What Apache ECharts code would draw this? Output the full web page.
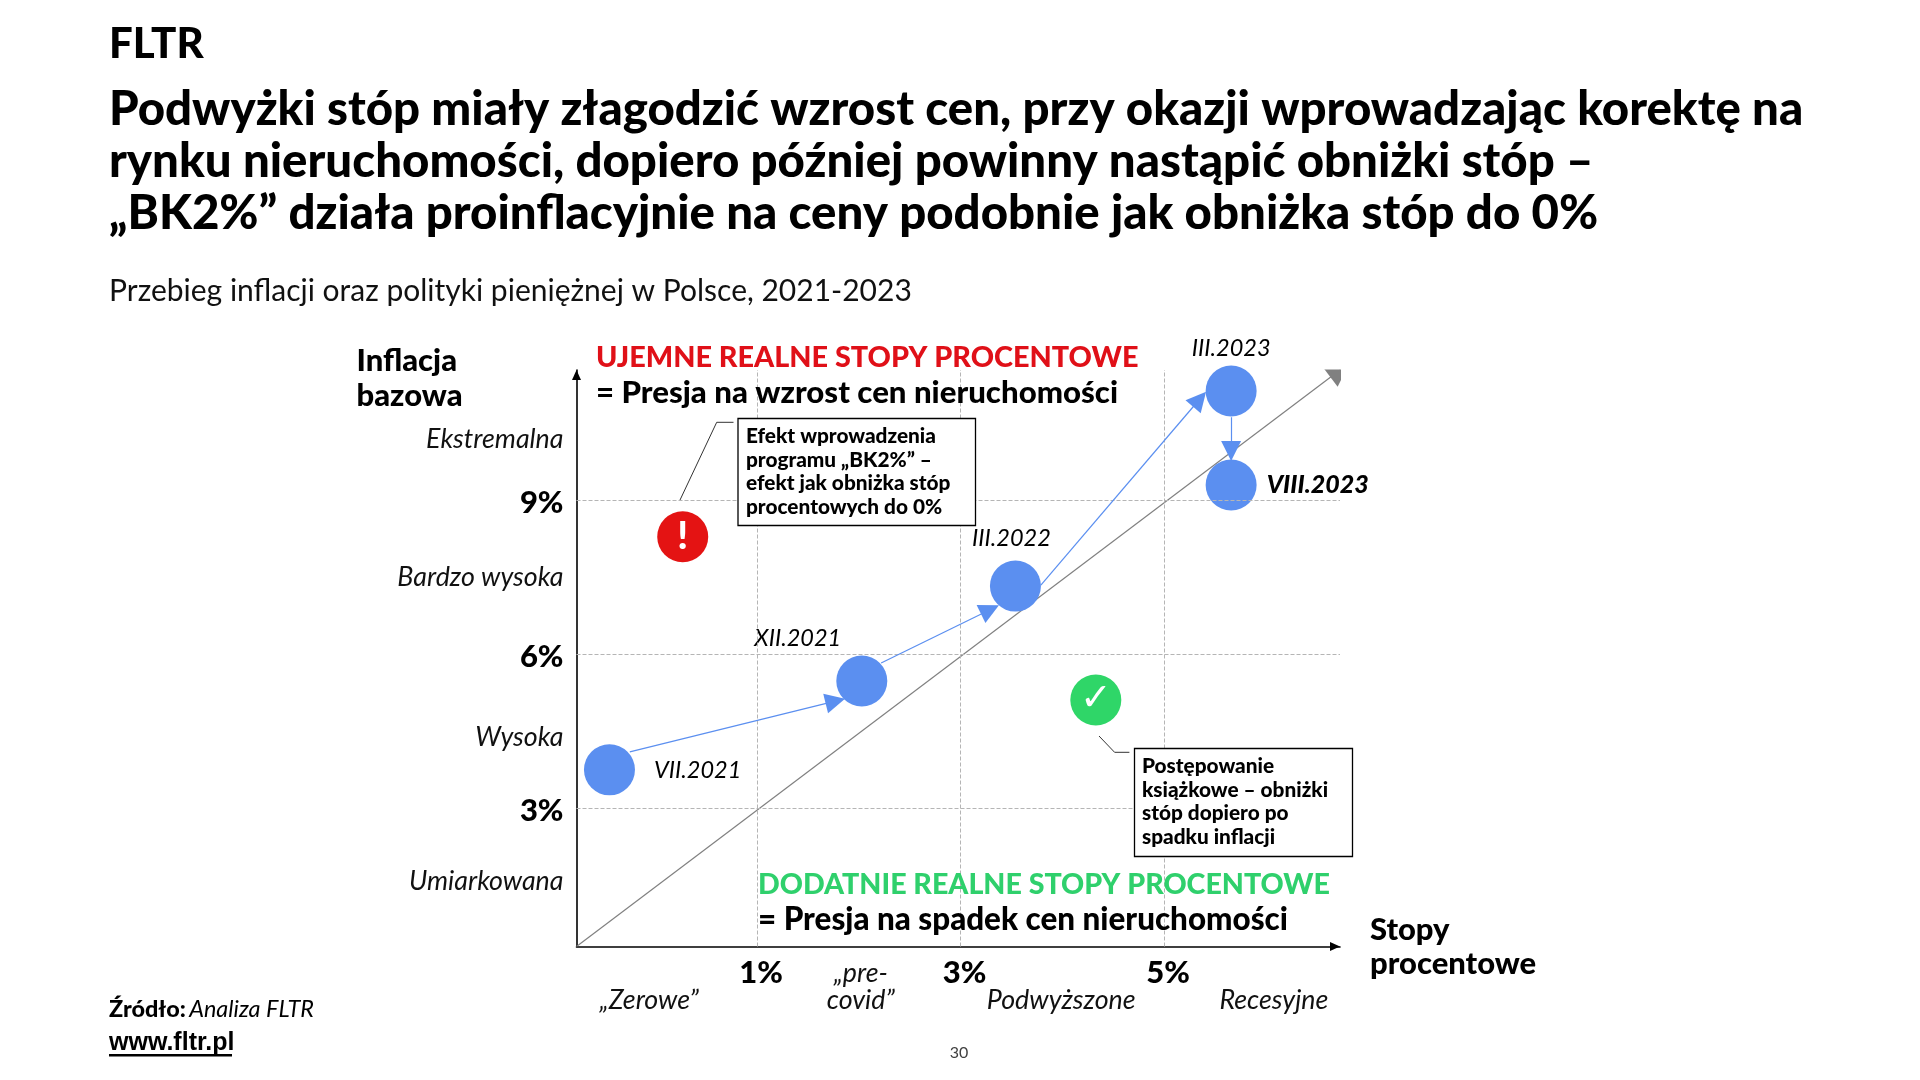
<!DOCTYPE html>
<html lang="pl"><head><meta charset="utf-8">
<style>html,body{margin:0;padding:0;background:#fff}#c{width:1920px;height:1080px}</style>
<script src="https://cdn.jsdelivr.net/npm/echarts@6/dist/echarts.min.js"></script>
</head><body><div id="c"></div>
<script>
const pointNames = ['VII.2021','XII.2021','III.2022','III.2023','VIII.2023'];
const policyRate = [-0.45, 2.03, 3.54, 5.66, 5.66];
const coreInflation = [3.75, 5.48, 7.33, 11.13, 9.30];
const arrowFromX = [-0.25, 2.22, 3.79, 5.66];
const arrowFromY = [4.10, 5.83, 7.35, 10.62];
const arrowToX = [1.77, 3.29, 5.35, 5.66];
const arrowToY = [5.09, 6.87, 10.97, 9.96];
const xMin = -0.774, xMax = 6.73, yMin = 0.308, yMax = 11.54;
const xGridValues = [1, 3, 5];
const yGridValues = [3, 6, 9];
const xBandNames = ['„Zerowe”', '„pre-\ncovid”', 'Podwyższone', 'Recesyjne'];
const xBandCentres = [-0.06, 2.02, 3.99, 6.08];
const yBandNames = ['Umiarkowana', 'Wysoka', 'Bardzo wysoka', 'Ekstremalna'];
const yBandCentres = [1.57, 4.39, 7.5, 10.18];
const warnPoint = [0.27, 8.29];
const okPoint = [4.33, 5.11];

const F = 'Lato,"Noto Sans",sans-serif';
const BLUE = '#5b8ff0', GREY = '#808080', INK = '#000';
const chart = echarts.init(document.getElementById('c'), null, {renderer:'canvas', width:1920, height:1080});

const labelLayout = [
  {position:'right', offset:[15,1]},
  {position:'top', offset:[-64,-2]},
  {position:'top', offset:[-4,-7]},
  {position:'top', offset:[0,-2]},
  {position:'right', offset:[6,0]}
];
const rangeBoxText = (t, x, y, w, h, tx, ty) => [
  {type:'rect', shape:{x, y, width:w, height:h}, style:{fill:'#fff', stroke:'#000', lineWidth:1.3}, z:20},
  {type:'text', x:tx, y:ty, z:21, style:{text:t, font:`900 20.8px ${F}`, fill:INK, lineHeight:23.4, textVerticalAlign:'top'}}
];
const txt = (t, x, y, font, fill, align) => ({type:'text', x, y, z:15, style:{text:t, font, fill:fill||INK, textAlign:align||'left', textVerticalAlign:'middle'}});

chart.setOption({
  animation:false,
  backgroundColor:'#fff',
  title:[
    {text:'FLTR', left:104, top:18, textStyle:{fontFamily:F, fontWeight:900, fontSize:42, color:INK}},
    {text:'Podwyżki stóp miały złagodzić wzrost cen, przy okazji wprowadzając korektę na\nrynku nieruchomości, dopiero później powinny nastąpić obniżki stóp –\n„BK2%” działa proinflacyjnie na ceny podobnie jak obniżka stóp do 0%',
     left:104, top:79, textStyle:{fontFamily:F, fontWeight:900, fontSize:47.4, lineHeight:52, color:INK}},
    {text:'Przebieg inflacji oraz polityki pieniężnej w Polsce, 2021-2023', left:104, top:271,
     textStyle:{fontFamily:F, fontWeight:400, fontSize:30, color:'#111'}}
  ],
  grid:{left:576.5, top:370, width:763.5, height:576.5, containLabel:false},
  xAxis:{
    type:'value', min:xMin, max:xMax, splitLine:{show:false}, axisTick:{show:false},
    name:'Stopy\nprocentowe', nameLocation:'end', nameGap:30,
    nameTextStyle:{fontFamily:F, fontWeight:900, fontSize:31, lineHeight:34, color:INK, align:'left', verticalAlign:'middle', padding:[0,0,2,0]},
    axisLine:{onZero:false, lineStyle:{color:INK, width:1.6}, symbol:['none','triangle'], symbolSize:[9,10], symbolOffset:[0,-5]},
    axisLabel:{
      customValues:[...xGridValues, ...xBandCentres].sort((a,b)=>a-b),
      margin:13, verticalAlign:'top',
      formatter:v=>{
        const g=xGridValues.indexOf(v);
        if(g>=0) return `{b|${v}%}\n{i| }`;
        const n=xBandNames[xBandCentres.indexOf(v)];
        return n.includes('\n') ? n.split('\n').map(s=>`{i|${s}}`).join('\n') : `{i| }\n{i|${n}}`;
      },
      rich:{
        b:{fontFamily:F, fontWeight:900, fontSize:31, lineHeight:27, color:INK, padding:[0,0,0,8]},
        i:{fontFamily:F, fontWeight:400, fontStyle:'italic', fontSize:26.8, lineHeight:27, color:'#111'}
      }
    }
  },
  yAxis:{
    type:'value', min:yMin, max:yMax, splitLine:{show:false}, axisTick:{show:false},
    name:'{a|Inflacja}\n{a|bazowa}', nameLocation:'end', nameGap:-8,
    nameTextStyle:{align:'right', verticalAlign:'middle', padding:[0,88,0,0],
      rich:{a:{fontFamily:F, fontWeight:900, fontSize:31, lineHeight:35, color:INK, width:132, align:'left'}}},
    axisLine:{onZero:false, lineStyle:{color:INK, width:1.6}, symbol:['none','triangle'], symbolSize:[9,10], symbolOffset:[0,-5]},
    axisLabel:{
      customValues:[...yGridValues, ...yBandCentres].sort((a,b)=>a-b),
      margin:13, align:'right',
      formatter:v=>{
        const g=yGridValues.indexOf(v);
        return g>=0 ? `{b|${v}%}` : `{i|${yBandNames[yBandCentres.indexOf(v)]}}`;
      },
      rich:{
        b:{fontFamily:F, fontWeight:900, fontSize:31, color:INK, padding:[5,0,0,0]},
        i:{fontFamily:F, fontWeight:400, fontStyle:'italic', fontSize:26.8, color:'#111'}
      }
    }
  },
  series:[
    {type:'line', name:'Siatka', data:[], silent:true, z:1,
     markLine:{silent:true, symbol:'none', animation:false, label:{show:false},
       lineStyle:{color:'#b5b5b5', type:'dashed', width:1},
       data:[...xGridValues.map(v=>({xAxis:v})), ...yGridValues.map(v=>({yAxis:v}))]}},
    {type:'lines', name:'Realna stopa zero', coordinateSystem:'cartesian2d', z:2, silent:true,
     polyline:false, symbol:['none','triangle'], symbolSize:[0,24],
     lineStyle:{color:GREY, width:1.2, opacity:1},
     data:[{coords:[[xMin,yMin],[xMax,yMax]]}]},
    {type:'scatter', name:'Ścieżka', z:4, symbol:'circle', symbolSize:51, itemStyle:{color:BLUE, opacity:1},
     data:pointNames.map((n,i)=>({
       value:[policyRate[i], coreInflation[i]], name:n,
       label:{show:true, formatter:n, fontFamily:F, fontSize:n==='VIII.2023'?25:23.5, fontStyle:'italic',
         fontWeight:n==='VIII.2023'?900:400, color:INK, distance:4, ...labelLayout[i]}
     }))},
    {type:'lines', name:'Przebieg', coordinateSystem:'cartesian2d', z:5, silent:true,
     polyline:false, symbol:['none','triangle'], symbolSize:[0,20],
     lineStyle:{color:BLUE, width:1.2, opacity:1},
     data:arrowFromX.map((x,i)=>({coords:[[x,arrowFromY[i]],[arrowToX[i],arrowToY[i]]]}))},
    {type:'scatter', name:'Ikony', z:4, symbol:'circle', symbolSize:51, silent:true,
     data:[
       {value:warnPoint, itemStyle:{color:'#e41313', opacity:1}, label:{show:true, position:'inside', formatter:'!', fontFamily:F, fontWeight:900, fontSize:38, color:'#fff'}},
       {value:okPoint, itemStyle:{color:'#2fd668', opacity:1}, label:{show:true, position:'inside', formatter:'✓', fontFamily:'"DejaVu Sans"', fontWeight:700, fontSize:38, color:'#fff'}}
     ]}
  ],
  graphic:[
    txt('UJEMNE REALNE STOPY PROCENTOWE', 596, 358, `900 28.8px ${F}`, '#e01018'),
    txt('= Presja na wzrost cen nieruchomości', 596, 393, `900 31.2px ${F}`),
    txt('DODATNIE REALNE STOPY PROCENTOWE', 758, 885, `900 28.6px ${F}`, '#2fd06c'),
    txt('= Presja na spadek cen nieruchomości', 758, 920, `900 31.4px ${F}`),
    ...rangeBoxText('Efekt wprowadzenia\nprogramu „BK2%” –\nefekt jak obniżka stóp\nprocentowych do 0%', 738, 418.5, 237.5, 107, 746, 425),
    ...rangeBoxText('Postępowanie\nksiążkowe – obniżki\nstóp dopiero po\nspadku inflacji', 1134.5, 748.5, 218, 108, 1142, 755),
    {type:'polyline', z:10, shape:{points:[[680,500],[716.7,422.3],[733.5,422.3]]}, style:{fill:'none', stroke:'#333', lineWidth:1}},
    {type:'polyline', z:10, shape:{points:[[1099,736],[1114.6,752.3],[1129.4,752.3]]}, style:{fill:'none', stroke:'#333', lineWidth:1}},
    txt('30', 959, 1053, `400 16px ${F}`, '#404040', 'center'),
    {type:'text', x:109, y:1009, z:15, style:{text:'{b|Źródło:} {i|Analiza FLTR}', textVerticalAlign:'middle',
      rich:{b:{font:'900 23.4px Lato', fill:INK}, i:{font:'italic 400 23.4px Lato', fill:INK}}}},
    txt('www.fltr.pl', 109, 1043, '700 25px "Liberation Sans"'),
    {type:'rect', z:15, shape:{x:109, y:1054, width:123, height:2.5}, style:{fill:INK}}
  ]
});
</script></body></html>
